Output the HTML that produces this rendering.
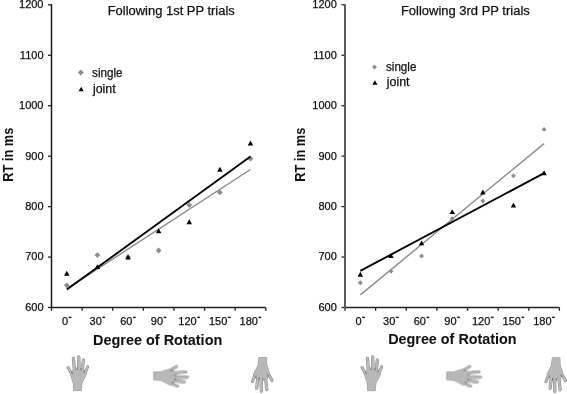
<!DOCTYPE html><html><head><meta charset="utf-8"><style>html,body{margin:0;padding:0;background:#fff;}body{filter:grayscale(1);}svg{display:block;}text{font-family:"Liberation Sans", sans-serif;stroke:#111;stroke-width:0.25px;}text[font-weight=bold]{stroke-width:0.05px;}</style></head><body>
<svg width="567" height="394" viewBox="0 0 567 394">
<defs><filter id="bl" x="-20%" y="-20%" width="140%" height="140%"><feGaussianBlur stdDeviation="0.35"/></filter></defs>
<g stroke="#222" stroke-width="1.3" fill="none">
<line x1="51.50" y1="307.50" x2="265.80" y2="307.50"/>
<line x1="48.00" y1="307.50" x2="51.50" y2="307.50"/>
<line x1="48.00" y1="257.05" x2="51.50" y2="257.05"/>
<line x1="48.00" y1="206.60" x2="51.50" y2="206.60"/>
<line x1="48.00" y1="156.15" x2="51.50" y2="156.15"/>
<line x1="48.00" y1="105.70" x2="51.50" y2="105.70"/>
<line x1="48.00" y1="55.25" x2="51.50" y2="55.25"/>
<line x1="48.00" y1="4.80" x2="51.50" y2="4.80"/>
<line x1="51.50" y1="307.50" x2="51.50" y2="310.80"/>
<line x1="82.11" y1="307.50" x2="82.11" y2="310.80"/>
<line x1="112.73" y1="307.50" x2="112.73" y2="310.80"/>
<line x1="143.34" y1="307.50" x2="143.34" y2="310.80"/>
<line x1="173.96" y1="307.50" x2="173.96" y2="310.80"/>
<line x1="204.57" y1="307.50" x2="204.57" y2="310.80"/>
<line x1="235.19" y1="307.50" x2="235.19" y2="310.80"/>
<line x1="265.80" y1="307.50" x2="265.80" y2="310.80"/>
</g>
<line x1="51.50" y1="4.30" x2="51.50" y2="308.10" stroke="#1a1a1a" stroke-width="1.50"/>
<g font-size="11" fill="#111" text-anchor="end">
<text x="43.50" y="310.90">600</text>
<text x="43.50" y="260.45">700</text>
<text x="43.50" y="210.00">800</text>
<text x="43.50" y="159.55">900</text>
<text x="43.50" y="109.10">1000</text>
<text x="43.50" y="58.65">1100</text>
<text x="43.50" y="8.20">1200</text>
</g>
<g font-size="11" fill="#111" text-anchor="middle">
<text x="65.06" y="324.8">0</text>
<ellipse cx="70.07" cy="317.3" rx="1.6" ry="0.9" fill="#222"/>
<text x="95.67" y="324.8">30</text>
<ellipse cx="103.74" cy="317.3" rx="1.6" ry="0.9" fill="#222"/>
<text x="126.29" y="324.8">60</text>
<ellipse cx="134.36" cy="317.3" rx="1.6" ry="0.9" fill="#222"/>
<text x="156.90" y="324.8">90</text>
<ellipse cx="164.97" cy="317.3" rx="1.6" ry="0.9" fill="#222"/>
<text x="187.51" y="324.8">120</text>
<ellipse cx="198.64" cy="317.3" rx="1.6" ry="0.9" fill="#222"/>
<text x="218.13" y="324.8">150</text>
<ellipse cx="229.26" cy="317.3" rx="1.6" ry="0.9" fill="#222"/>
<text x="248.74" y="324.8">180</text>
<ellipse cx="259.87" cy="317.3" rx="1.6" ry="0.9" fill="#222"/>
</g>
<g fill="#111"><text x="107.70" y="15.20" font-size="12.5" font-weight="normal" textLength="127.10" lengthAdjust="spacingAndGlyphs" >Following 1st PP trials</text></g>
<g fill="#111"><text x="93.00" y="344.90" font-size="14" font-weight="bold" textLength="129.30" lengthAdjust="spacingAndGlyphs" >Degree of Rotation</text></g>
<text transform="translate(12.90,154.75) rotate(-90)" font-size="14" font-weight="bold" fill="#111" text-anchor="middle" textLength="54" lengthAdjust="spacingAndGlyphs">RT in ms</text>
<line x1="66.81" y1="288.83" x2="250.49" y2="169.48" stroke="#8a8a8a" stroke-width="1.4"/>
<path d="M66.81 282.40L69.71 285.30L66.81 288.20L63.91 285.30Z" fill="#8c8c8c"/>
<path d="M97.42 252.13L100.32 255.03L97.42 257.93L94.52 255.03Z" fill="#8c8c8c"/>
<path d="M128.04 254.15L130.94 257.05L128.04 259.95L125.14 257.05Z" fill="#8c8c8c"/>
<path d="M158.65 247.59L161.55 250.49L158.65 253.39L155.75 250.49Z" fill="#8c8c8c"/>
<path d="M189.26 202.19L192.16 205.09L189.26 207.99L186.36 205.09Z" fill="#8c8c8c"/>
<path d="M219.88 189.57L222.78 192.47L219.88 195.37L216.98 192.47Z" fill="#8c8c8c"/>
<path d="M250.49 155.77L253.39 158.67L250.49 161.57L247.59 158.67Z" fill="#8c8c8c"/>
<line x1="66.81" y1="289.59" x2="250.49" y2="156.62" stroke="#000" stroke-width="1.85"/>
<path d="M66.81 270.74L69.56 275.64L64.06 275.64Z" fill="#000"/>
<path d="M97.42 264.19L100.17 269.09L94.67 269.09Z" fill="#000"/>
<path d="M128.04 254.60L130.79 259.50L125.29 259.50Z" fill="#000"/>
<path d="M158.65 228.37L161.40 233.27L155.90 233.27Z" fill="#000"/>
<path d="M189.26 219.29L192.01 224.19L186.51 224.19Z" fill="#000"/>
<path d="M219.88 166.82L222.63 171.72L217.13 171.72Z" fill="#000"/>
<path d="M250.49 140.58L253.24 145.48L247.74 145.48Z" fill="#000"/>
<path d="M80.80 69.40L83.80 72.40L80.80 75.40L77.80 72.40Z" fill="#8c8c8c"/>
<path d="M81.20 86.70L83.80 91.30L78.60 91.30Z" fill="#000"/>
<g fill="#111"><text x="92.10" y="76.60" font-size="12" font-weight="normal" textLength="30.40" lengthAdjust="spacingAndGlyphs" >single</text></g>
<g fill="#111"><text x="92.90" y="92.50" font-size="12" font-weight="normal" textLength="22.70" lengthAdjust="spacingAndGlyphs" >joint</text></g>
<g stroke="#222" stroke-width="1.3" fill="none">
<line x1="345.00" y1="307.50" x2="559.40" y2="307.50"/>
<line x1="341.50" y1="307.50" x2="345.00" y2="307.50"/>
<line x1="341.50" y1="257.05" x2="345.00" y2="257.05"/>
<line x1="341.50" y1="206.60" x2="345.00" y2="206.60"/>
<line x1="341.50" y1="156.15" x2="345.00" y2="156.15"/>
<line x1="341.50" y1="105.70" x2="345.00" y2="105.70"/>
<line x1="341.50" y1="55.25" x2="345.00" y2="55.25"/>
<line x1="341.50" y1="4.80" x2="345.00" y2="4.80"/>
<line x1="345.00" y1="307.50" x2="345.00" y2="310.80"/>
<line x1="375.63" y1="307.50" x2="375.63" y2="310.80"/>
<line x1="406.26" y1="307.50" x2="406.26" y2="310.80"/>
<line x1="436.89" y1="307.50" x2="436.89" y2="310.80"/>
<line x1="467.51" y1="307.50" x2="467.51" y2="310.80"/>
<line x1="498.14" y1="307.50" x2="498.14" y2="310.80"/>
<line x1="528.77" y1="307.50" x2="528.77" y2="310.80"/>
<line x1="559.40" y1="307.50" x2="559.40" y2="310.80"/>
</g>
<line x1="345.00" y1="4.30" x2="345.00" y2="308.10" stroke="#5a5a5a" stroke-width="2.00"/>
<g font-size="11" fill="#111" text-anchor="end">
<text x="336.80" y="310.90">600</text>
<text x="336.80" y="260.45">700</text>
<text x="336.80" y="210.00">800</text>
<text x="336.80" y="159.55">900</text>
<text x="336.80" y="109.10">1000</text>
<text x="336.80" y="58.65">1100</text>
<text x="336.80" y="8.20">1200</text>
</g>
<g font-size="11" fill="#111" text-anchor="middle">
<text x="358.56" y="324.8">0</text>
<ellipse cx="363.57" cy="317.3" rx="1.6" ry="0.9" fill="#222"/>
<text x="389.19" y="324.8">30</text>
<ellipse cx="397.26" cy="317.3" rx="1.6" ry="0.9" fill="#222"/>
<text x="419.82" y="324.8">60</text>
<ellipse cx="427.89" cy="317.3" rx="1.6" ry="0.9" fill="#222"/>
<text x="450.45" y="324.8">90</text>
<ellipse cx="458.52" cy="317.3" rx="1.6" ry="0.9" fill="#222"/>
<text x="481.08" y="324.8">120</text>
<ellipse cx="492.21" cy="317.3" rx="1.6" ry="0.9" fill="#222"/>
<text x="511.71" y="324.8">150</text>
<ellipse cx="522.84" cy="317.3" rx="1.6" ry="0.9" fill="#222"/>
<text x="542.34" y="324.8">180</text>
<ellipse cx="553.47" cy="317.3" rx="1.6" ry="0.9" fill="#222"/>
</g>
<g fill="#111"><text x="400.90" y="15.20" font-size="12.5" font-weight="normal" textLength="128.90" lengthAdjust="spacingAndGlyphs" >Following 3rd PP trials</text></g>
<g fill="#111"><text x="388.20" y="343.80" font-size="14" font-weight="bold" textLength="128.40" lengthAdjust="spacingAndGlyphs" >Degree of Rotation</text></g>
<text transform="translate(305.00,154.75) rotate(-90)" font-size="14" font-weight="bold" fill="#111" text-anchor="middle" textLength="54" lengthAdjust="spacingAndGlyphs">RT in ms</text>
<line x1="360.31" y1="294.91" x2="544.09" y2="143.66" stroke="#8a8a8a" stroke-width="1.4"/>
<path d="M360.31 280.33L362.76 282.78L360.31 285.23L357.86 282.78Z" fill="#8c8c8c"/>
<path d="M390.94 268.73L393.39 271.18L390.94 273.63L388.49 271.18Z" fill="#8c8c8c"/>
<path d="M421.57 253.59L424.02 256.04L421.57 258.49L419.12 256.04Z" fill="#8c8c8c"/>
<path d="M452.20 216.26L454.65 218.71L452.20 221.16L449.75 218.71Z" fill="#8c8c8c"/>
<path d="M482.83 198.60L485.28 201.05L482.83 203.50L480.38 201.05Z" fill="#8c8c8c"/>
<path d="M513.46 173.38L515.91 175.83L513.46 178.28L511.01 175.83Z" fill="#8c8c8c"/>
<path d="M544.09 126.96L546.54 129.41L544.09 131.86L541.64 129.41Z" fill="#8c8c8c"/>
<line x1="360.31" y1="270.89" x2="544.09" y2="173.16" stroke="#000" stroke-width="1.85"/>
<path d="M360.31 271.75L363.06 276.65L357.56 276.65Z" fill="#000"/>
<path d="M390.94 253.09L393.69 257.99L388.19 257.99Z" fill="#000"/>
<path d="M421.57 240.47L424.32 245.37L418.82 245.37Z" fill="#000"/>
<path d="M452.20 209.20L454.95 214.09L449.45 214.09Z" fill="#000"/>
<path d="M482.83 189.52L485.58 194.42L480.08 194.42Z" fill="#000"/>
<path d="M513.46 202.64L516.21 207.54L510.71 207.54Z" fill="#000"/>
<path d="M544.09 170.35L546.84 175.25L541.34 175.25Z" fill="#000"/>
<path d="M374.50 64.40L377.00 66.90L374.50 69.40L372.00 66.90Z" fill="#8c8c8c"/>
<path d="M374.90 80.20L377.50 84.80L372.30 84.80Z" fill="#000"/>
<g fill="#111"><text x="386.00" y="70.70" font-size="12" font-weight="normal" textLength="30.40" lengthAdjust="spacingAndGlyphs" >single</text></g>
<g fill="#111"><text x="386.80" y="85.90" font-size="12" font-weight="normal" textLength="22.70" lengthAdjust="spacingAndGlyphs" >joint</text></g>
<g transform="translate(78.00,373.00) rotate(0)"><g filter="url(#bl)"><g stroke="#858585" stroke-linecap="round" fill="none"><line x1="-10.00" y1="-5.40" x2="-6.00" y2="1.80" stroke-width="3.00"/><line x1="-4.60" y1="-14.60" x2="-3.60" y2="-3.50" stroke-width="3.20"/><line x1="0.70" y1="-16.00" x2="0.90" y2="-3.50" stroke-width="3.40"/><line x1="5.40" y1="-13.00" x2="4.20" y2="-2.50" stroke-width="3.20"/><line x1="9.60" y1="-6.30" x2="6.90" y2="0.50" stroke-width="3.00"/></g><path d="M-5.0 -3.5 L8.2 -2 L8.4 1.5 L6.0 6 L4.0 10 L3.2 17.6 L-4.5 17.6 L-4.6 10.5 L-6.6 4.5 L-7.0 1.5 Z" fill="#858585" stroke="#858585" stroke-width="0.7" stroke-linejoin="round"/><g stroke="#bababa" stroke-linecap="round" fill="none"><line x1="-10.00" y1="-5.40" x2="-6.00" y2="1.80" stroke-width="2.10"/><line x1="-4.60" y1="-14.60" x2="-3.60" y2="-3.50" stroke-width="2.30"/><line x1="0.70" y1="-16.00" x2="0.90" y2="-3.50" stroke-width="2.50"/><line x1="5.40" y1="-13.00" x2="4.20" y2="-2.50" stroke-width="2.30"/><line x1="9.60" y1="-6.30" x2="6.90" y2="0.50" stroke-width="2.10"/></g><path d="M-5.0 -3.5 L8.2 -2 L8.4 1.5 L6.0 6 L4.0 10 L3.2 17.6 L-4.5 17.6 L-4.6 10.5 L-6.6 4.5 L-7.0 1.5 Z" fill="#b8b8b8"/><g stroke="#6a6a6a" stroke-width="0.9" stroke-linecap="round" fill="none"><line x1="-1.2" y1="-5.2" x2="-1.0" y2="-3.6"/><line x1="3.0" y1="-4.6" x2="3.0" y2="-3.0"/><line x1="6.4" y1="-2.2" x2="6.0" y2="-0.6"/><line x1="-6.4" y1="-1.2" x2="-5.6" y2="0.6"/></g></g></g>
<g transform="translate(171.25,376.50) rotate(90)"><g filter="url(#bl)"><g stroke="#858585" stroke-linecap="round" fill="none"><line x1="-10.00" y1="-5.40" x2="-6.00" y2="1.80" stroke-width="3.00"/><line x1="-4.60" y1="-14.60" x2="-3.60" y2="-3.50" stroke-width="3.20"/><line x1="0.70" y1="-16.00" x2="0.90" y2="-3.50" stroke-width="3.40"/><line x1="5.40" y1="-13.00" x2="4.20" y2="-2.50" stroke-width="3.20"/><line x1="9.60" y1="-6.30" x2="6.90" y2="0.50" stroke-width="3.00"/></g><path d="M-5.0 -3.5 L8.2 -2 L8.4 1.5 L6.0 6 L4.0 10 L3.2 17.6 L-4.5 17.6 L-4.6 10.5 L-6.6 4.5 L-7.0 1.5 Z" fill="#858585" stroke="#858585" stroke-width="0.7" stroke-linejoin="round"/><g stroke="#bababa" stroke-linecap="round" fill="none"><line x1="-10.00" y1="-5.40" x2="-6.00" y2="1.80" stroke-width="2.10"/><line x1="-4.60" y1="-14.60" x2="-3.60" y2="-3.50" stroke-width="2.30"/><line x1="0.70" y1="-16.00" x2="0.90" y2="-3.50" stroke-width="2.50"/><line x1="5.40" y1="-13.00" x2="4.20" y2="-2.50" stroke-width="2.30"/><line x1="9.60" y1="-6.30" x2="6.90" y2="0.50" stroke-width="2.10"/></g><path d="M-5.0 -3.5 L8.2 -2 L8.4 1.5 L6.0 6 L4.0 10 L3.2 17.6 L-4.5 17.6 L-4.6 10.5 L-6.6 4.5 L-7.0 1.5 Z" fill="#b8b8b8"/><g stroke="#6a6a6a" stroke-width="0.9" stroke-linecap="round" fill="none"><line x1="-1.2" y1="-5.2" x2="-1.0" y2="-3.6"/><line x1="3.0" y1="-4.6" x2="3.0" y2="-3.0"/><line x1="6.4" y1="-2.2" x2="6.0" y2="-0.6"/><line x1="-6.4" y1="-1.2" x2="-5.6" y2="0.6"/></g></g></g>
<g transform="translate(262.10,375.10) rotate(180)"><g filter="url(#bl)"><g stroke="#858585" stroke-linecap="round" fill="none"><line x1="-10.00" y1="-5.40" x2="-6.00" y2="1.80" stroke-width="3.00"/><line x1="-4.60" y1="-14.60" x2="-3.60" y2="-3.50" stroke-width="3.20"/><line x1="0.70" y1="-16.00" x2="0.90" y2="-3.50" stroke-width="3.40"/><line x1="5.40" y1="-13.00" x2="4.20" y2="-2.50" stroke-width="3.20"/><line x1="9.60" y1="-6.30" x2="6.90" y2="0.50" stroke-width="3.00"/></g><path d="M-5.0 -3.5 L8.2 -2 L8.4 1.5 L6.0 6 L4.0 10 L3.2 17.6 L-4.5 17.6 L-4.6 10.5 L-6.6 4.5 L-7.0 1.5 Z" fill="#858585" stroke="#858585" stroke-width="0.7" stroke-linejoin="round"/><g stroke="#bababa" stroke-linecap="round" fill="none"><line x1="-10.00" y1="-5.40" x2="-6.00" y2="1.80" stroke-width="2.10"/><line x1="-4.60" y1="-14.60" x2="-3.60" y2="-3.50" stroke-width="2.30"/><line x1="0.70" y1="-16.00" x2="0.90" y2="-3.50" stroke-width="2.50"/><line x1="5.40" y1="-13.00" x2="4.20" y2="-2.50" stroke-width="2.30"/><line x1="9.60" y1="-6.30" x2="6.90" y2="0.50" stroke-width="2.10"/></g><path d="M-5.0 -3.5 L8.2 -2 L8.4 1.5 L6.0 6 L4.0 10 L3.2 17.6 L-4.5 17.6 L-4.6 10.5 L-6.6 4.5 L-7.0 1.5 Z" fill="#b8b8b8"/><g stroke="#6a6a6a" stroke-width="0.9" stroke-linecap="round" fill="none"><line x1="-1.2" y1="-5.2" x2="-1.0" y2="-3.6"/><line x1="3.0" y1="-4.6" x2="3.0" y2="-3.0"/><line x1="6.4" y1="-2.2" x2="6.0" y2="-0.6"/><line x1="-6.4" y1="-1.2" x2="-5.6" y2="0.6"/></g></g></g>
<g transform="translate(372.00,373.00) rotate(0)"><g filter="url(#bl)"><g stroke="#858585" stroke-linecap="round" fill="none"><line x1="-10.00" y1="-5.40" x2="-6.00" y2="1.80" stroke-width="3.00"/><line x1="-4.60" y1="-14.60" x2="-3.60" y2="-3.50" stroke-width="3.20"/><line x1="0.70" y1="-16.00" x2="0.90" y2="-3.50" stroke-width="3.40"/><line x1="5.40" y1="-13.00" x2="4.20" y2="-2.50" stroke-width="3.20"/><line x1="9.60" y1="-6.30" x2="6.90" y2="0.50" stroke-width="3.00"/></g><path d="M-5.0 -3.5 L8.2 -2 L8.4 1.5 L6.0 6 L4.0 10 L3.2 17.6 L-4.5 17.6 L-4.6 10.5 L-6.6 4.5 L-7.0 1.5 Z" fill="#858585" stroke="#858585" stroke-width="0.7" stroke-linejoin="round"/><g stroke="#bababa" stroke-linecap="round" fill="none"><line x1="-10.00" y1="-5.40" x2="-6.00" y2="1.80" stroke-width="2.10"/><line x1="-4.60" y1="-14.60" x2="-3.60" y2="-3.50" stroke-width="2.30"/><line x1="0.70" y1="-16.00" x2="0.90" y2="-3.50" stroke-width="2.50"/><line x1="5.40" y1="-13.00" x2="4.20" y2="-2.50" stroke-width="2.30"/><line x1="9.60" y1="-6.30" x2="6.90" y2="0.50" stroke-width="2.10"/></g><path d="M-5.0 -3.5 L8.2 -2 L8.4 1.5 L6.0 6 L4.0 10 L3.2 17.6 L-4.5 17.6 L-4.6 10.5 L-6.6 4.5 L-7.0 1.5 Z" fill="#b8b8b8"/><g stroke="#6a6a6a" stroke-width="0.9" stroke-linecap="round" fill="none"><line x1="-1.2" y1="-5.2" x2="-1.0" y2="-3.6"/><line x1="3.0" y1="-4.6" x2="3.0" y2="-3.0"/><line x1="6.4" y1="-2.2" x2="6.0" y2="-0.6"/><line x1="-6.4" y1="-1.2" x2="-5.6" y2="0.6"/></g></g></g>
<g transform="translate(464.30,376.50) rotate(90)"><g filter="url(#bl)"><g stroke="#858585" stroke-linecap="round" fill="none"><line x1="-10.00" y1="-5.40" x2="-6.00" y2="1.80" stroke-width="3.00"/><line x1="-4.60" y1="-14.60" x2="-3.60" y2="-3.50" stroke-width="3.20"/><line x1="0.70" y1="-16.00" x2="0.90" y2="-3.50" stroke-width="3.40"/><line x1="5.40" y1="-13.00" x2="4.20" y2="-2.50" stroke-width="3.20"/><line x1="9.60" y1="-6.30" x2="6.90" y2="0.50" stroke-width="3.00"/></g><path d="M-5.0 -3.5 L8.2 -2 L8.4 1.5 L6.0 6 L4.0 10 L3.2 17.6 L-4.5 17.6 L-4.6 10.5 L-6.6 4.5 L-7.0 1.5 Z" fill="#858585" stroke="#858585" stroke-width="0.7" stroke-linejoin="round"/><g stroke="#bababa" stroke-linecap="round" fill="none"><line x1="-10.00" y1="-5.40" x2="-6.00" y2="1.80" stroke-width="2.10"/><line x1="-4.60" y1="-14.60" x2="-3.60" y2="-3.50" stroke-width="2.30"/><line x1="0.70" y1="-16.00" x2="0.90" y2="-3.50" stroke-width="2.50"/><line x1="5.40" y1="-13.00" x2="4.20" y2="-2.50" stroke-width="2.30"/><line x1="9.60" y1="-6.30" x2="6.90" y2="0.50" stroke-width="2.10"/></g><path d="M-5.0 -3.5 L8.2 -2 L8.4 1.5 L6.0 6 L4.0 10 L3.2 17.6 L-4.5 17.6 L-4.6 10.5 L-6.6 4.5 L-7.0 1.5 Z" fill="#b8b8b8"/><g stroke="#6a6a6a" stroke-width="0.9" stroke-linecap="round" fill="none"><line x1="-1.2" y1="-5.2" x2="-1.0" y2="-3.6"/><line x1="3.0" y1="-4.6" x2="3.0" y2="-3.0"/><line x1="6.4" y1="-2.2" x2="6.0" y2="-0.6"/><line x1="-6.4" y1="-1.2" x2="-5.6" y2="0.6"/></g></g></g>
<g transform="translate(555.50,375.40) rotate(180)"><g filter="url(#bl)"><g stroke="#858585" stroke-linecap="round" fill="none"><line x1="-10.00" y1="-5.40" x2="-6.00" y2="1.80" stroke-width="3.00"/><line x1="-4.60" y1="-14.60" x2="-3.60" y2="-3.50" stroke-width="3.20"/><line x1="0.70" y1="-16.00" x2="0.90" y2="-3.50" stroke-width="3.40"/><line x1="5.40" y1="-13.00" x2="4.20" y2="-2.50" stroke-width="3.20"/><line x1="9.60" y1="-6.30" x2="6.90" y2="0.50" stroke-width="3.00"/></g><path d="M-5.0 -3.5 L8.2 -2 L8.4 1.5 L6.0 6 L4.0 10 L3.2 17.6 L-4.5 17.6 L-4.6 10.5 L-6.6 4.5 L-7.0 1.5 Z" fill="#858585" stroke="#858585" stroke-width="0.7" stroke-linejoin="round"/><g stroke="#bababa" stroke-linecap="round" fill="none"><line x1="-10.00" y1="-5.40" x2="-6.00" y2="1.80" stroke-width="2.10"/><line x1="-4.60" y1="-14.60" x2="-3.60" y2="-3.50" stroke-width="2.30"/><line x1="0.70" y1="-16.00" x2="0.90" y2="-3.50" stroke-width="2.50"/><line x1="5.40" y1="-13.00" x2="4.20" y2="-2.50" stroke-width="2.30"/><line x1="9.60" y1="-6.30" x2="6.90" y2="0.50" stroke-width="2.10"/></g><path d="M-5.0 -3.5 L8.2 -2 L8.4 1.5 L6.0 6 L4.0 10 L3.2 17.6 L-4.5 17.6 L-4.6 10.5 L-6.6 4.5 L-7.0 1.5 Z" fill="#b8b8b8"/><g stroke="#6a6a6a" stroke-width="0.9" stroke-linecap="round" fill="none"><line x1="-1.2" y1="-5.2" x2="-1.0" y2="-3.6"/><line x1="3.0" y1="-4.6" x2="3.0" y2="-3.0"/><line x1="6.4" y1="-2.2" x2="6.0" y2="-0.6"/><line x1="-6.4" y1="-1.2" x2="-5.6" y2="0.6"/></g></g></g>
</svg></body></html>
